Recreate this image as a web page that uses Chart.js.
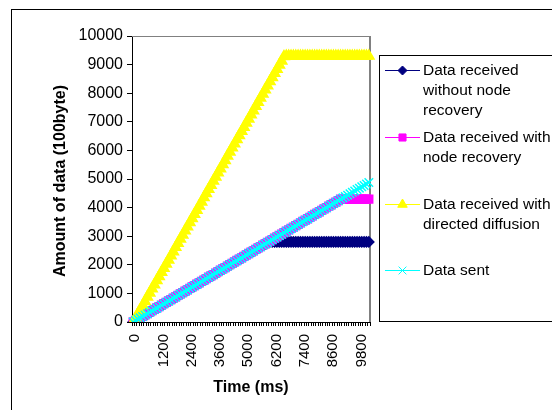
<!DOCTYPE html>
<html>
<head>
<meta charset="utf-8">
<script src="https://cdn.jsdelivr.net/npm/chart.js@4.4.0/dist/chart.umd.min.js"></script>
<style>
body { margin: 0; background: #fff; }
canvas { display: block; }
</style>
</head>
<body>
<canvas id="myChart" width="552" height="410"></canvas>
<script>
// time axis (ms) - one category per sample
const times = [
	0,100,200,300,400,500,600,700,800,900,1000,1100,1200,1300,1400,1500,1600,1700,1800,1900,
	2000,2100,2200,2300,2400,2500,2600,2700,2800,2900,3000,3100,3200,3300,3400,3500,3600,
	3700,3800,3900,4000,4100,4200,4300,4400,4600,4700,4800,5000,
	5100,5200,5300,5400,5500,5600,5700,5800,5900,6000,6100,6200,6300,6400,6500,6600,6700,6800,6900,7000,
	7100,7200,7300,7400,7500,7600,7700,7800,7900,8000,8100,8200,8300,8400,8500,8600,8700,8800,8900,9000,
	9100,9200,9300,9400,9500,9600,9700,9800,9900,10000,10100,10200
];

const withoutRecovery = [
	0,50,100,145,195,245,290,340,390,440,
	485,535,585,635,680,730,780,830,875,925,
	975,1025,1070,1120,1170,1220,1265,1315,1365,1415,
	1460,1510,1560,1610,1655,1705,1755,1805,1850,1900,
	1950,2000,2045,2095,2145,2195,2240,2290,2340,2390,
	2435,2485,2535,2585,2630,2680,2730,2780,2800,2800,
	2800,2800,2800,2800,2800,2800,2800,2800,2800,2800,
	2800,2800,2800,2800,2800,2800,2800,2800,2800,2800,
	2800,2800,2800,2800,2800,2800,2800,2800,2800,2800,
	2800,2800,2800,2800,2800,2800,2800,2800,2800,2800,
	2800
];

const withRecovery = [
	0,55,105,150,200,250,295,345,395,445,
	490,540,590,640,685,735,785,835,880,930,
	980,1030,1075,1125,1175,1225,1270,1320,1370,1420,
	1465,1515,1565,1615,1660,1710,1760,1810,1855,1905,
	1955,2005,2050,2100,2150,2200,2245,2295,2345,2395,
	2440,2490,2540,2590,2635,2685,2735,2785,2830,2880,
	2930,2980,3025,3075,3125,3175,3220,3270,3320,3370,
	3415,3465,3515,3565,3610,3660,3710,3760,3805,3855,
	3905,3955,4000,4050,4100,4150,4195,4245,4300,4300,
	4300,4300,4300,4300,4300,4300,4300,4300,4300,4300,
	4300
];

const directedDiffusion = [
	0,140,290,430,580,720,870,1010,1160,1300,
	1450,1590,1740,1880,2030,2170,2320,2460,2610,2750,
	2900,3040,3190,3330,3480,3620,3770,3910,4060,4200,
	4350,4490,4640,4780,4930,5070,5220,5360,5510,5650,
	5800,5940,6090,6230,6380,6520,6670,6810,6960,7100,
	7250,7390,7540,7680,7830,7970,8120,8260,8410,8550,
	8700,8840,8990,9130,9280,9300,9300,9300,9300,9300,
	9300,9300,9300,9300,9300,9300,9300,9300,9300,9300,
	9300,9300,9300,9300,9300,9300,9300,9300,9300,9300,
	9300,9300,9300,9300,9300,9300,9300,9300,9300,9300,
	9300
];

const dataSent = [
	0,50,100,145,195,245,290,340,390,440,
	485,535,585,635,680,730,780,830,875,925,
	975,1025,1070,1120,1170,1220,1265,1315,1365,1415,
	1460,1510,1560,1610,1655,1705,1755,1805,1850,1900,
	1950,2000,2045,2095,2145,2195,2240,2290,2340,2390,
	2435,2485,2535,2585,2630,2680,2730,2780,2825,2875,
	2925,2975,3020,3070,3120,3170,3215,3265,3315,3365,
	3410,3460,3510,3560,3605,3655,3705,3755,3800,3850,
	3900,3950,3995,4045,4095,4145,4190,4240,4290,4340,
	4385,4435,4485,4535,4580,4630,4680,4730,4775,4825,
	4875
];

const seriesNames = [
	["Data received", "without node", "recovery"],
	["Data received with", "node recovery"],
	["Data received with", "directed diffusion"],
	["Data sent"]
];
const yTitle = "Amount of data (100byte)";
const xTitle = "Time (ms)";

const FONT = "'Liberation Sans', Arial, sans-serif";
Chart.defaults.font.family = FONT;
Chart.defaults.color = "#000";

function makeDataset(label, data, color, style, radius, order){
	return {
		label: label.join(" "),
		data: data,
		borderColor: color,
		backgroundColor: color,
		borderWidth: 1,
		pointStyle: style,
		pointRadius: radius,
		pointBorderWidth: 1.5,
		pointBackgroundColor: color,
		pointBorderColor: color,
		tension: 0,
		fill: false,
		order: order
	};
}

// frame, plot area border
const framePlugin = {
	id: "frame",
	beforeDraw(chart){
		const c = chart.ctx;
		c.save();
		c.fillStyle = "#fff";
		c.fillRect(0, 0, chart.width, chart.height);
		c.strokeStyle = "#000";
		c.lineWidth = 1;
		c.strokeRect(11.5, 9.5, 700, 600);
		c.restore();
	},
	beforeDatasetsDraw(chart){
		const a = chart.chartArea;
		const c = chart.ctx;
		c.save();
		c.strokeStyle = "#808080";
		c.lineWidth = 1;
		c.beginPath();
		c.moveTo(a.left, a.top + 0.5);
		c.lineTo(a.right, a.top + 0.5);
		c.stroke();
		c.lineWidth = 2;
		c.beginPath();
		c.moveTo(a.right, a.top);
		c.lineTo(a.right, a.bottom);
		c.stroke();
		c.restore();
	}
};

// axis titles + legend drawn by hand (multi-line entries)
const extrasPlugin = {
	id: "extras",
	afterDraw(chart){
		const c = chart.ctx;
		const a = chart.chartArea;
		c.save();
		c.fillStyle = "#000";
		c.font = "bold 16px " + FONT;
		c.textAlign = "center";
		c.textBaseline = "middle";
		c.translate(61, (a.top + a.bottom) / 2 + 2);
		c.rotate(-Math.PI / 2);
		c.fillText(yTitle, 0, 0);
		c.restore();

		c.save();
		c.fillStyle = "#000";
		c.font = "bold 16px " + FONT;
		c.textAlign = "center";
		c.textBaseline = "middle";
		c.fillText(xTitle, 251, 388);
		c.restore();

		// legend
		c.save();
		c.strokeStyle = "#000";
		c.lineWidth = 1;
		c.fillStyle = "#fff";
		c.fillRect(379.5, 55.5, 300, 266);
		c.strokeRect(379.5, 55.5, 300, 266);
		const entryY = [70, 137, 204, 270];
		const metas = chart.data.datasets;
		for(let i = 0; i < metas.length; i++){
			const ds = metas[i];
			const y = entryY[i];
			c.strokeStyle = ds.borderColor;
			c.lineWidth = 1;
			c.beginPath();
			c.moveTo(385, y + 0.5);
			c.lineTo(420, y + 0.5);
			c.stroke();
			c.fillStyle = ds.borderColor;
			c.strokeStyle = ds.borderColor;
			Chart.helpers.drawPoint(c, {pointStyle: ds.pointStyle, radius: ds.pointRadius - 0.5, borderWidth: 1, rotation: 0}, 402.5, y + 0.5);
			c.fillStyle = "#000";
			c.font = "15.5px " + FONT;
			c.textAlign = "left";
			c.textBaseline = "middle";
			const lines = seriesNames[i];
			for(let j = 0; j < lines.length; j++){
				c.fillText(lines[j], 423, y + 1 + j * 20);
			}
		}
		c.restore();
	}
};

const ctx = document.getElementById("myChart").getContext("2d");

new Chart(ctx, {
	type: "line",
	data: {
		labels: times,
		datasets: [
			makeDataset(seriesNames[0], withoutRecovery, "#000080", "rectRot", 5, 3),
			makeDataset(seriesNames[1], withRecovery, "#FF00FF", "rect", 5.5, 2),
			makeDataset(seriesNames[2], directedDiffusion, "#FFFF00", "triangle", 6, 1),
			makeDataset(seriesNames[3], dataSent, "#00FFFF", "crossRot", 6, 0)
		]
	},
	options: {
		responsive: false,
		animation: false,
		layout: { padding: { left: 0, top: 36, right: 182, bottom: 0 } },
		plugins: {
			legend: { display: false },
			tooltip: { enabled: false },
			title: { display: false }
		},
		scales: {
			x: {
				type: "category",
				offset: true,
				grid: { drawOnChartArea: false, drawTicks: true, tickLength: 4, color: "#000", offset: true },
				border: { display: true, color: "#000", width: 1 },
				ticks: {
					autoSkip: false,
					maxRotation: 90,
					minRotation: 90,
					padding: 8,
					labelOffset: 2,
					color: "#000",
					font: { size: 15 },
					callback: function(v, i){
						return i % 12 === 0 ? String(this.getLabelForValue(v)) : "";
					}
				},
				afterFit: function(s){ s.height = 88; }
			},
			y: {
				min: 0,
				max: 10000,
				grid: { drawOnChartArea: false, drawTicks: true, tickLength: 5, color: "#000" },
				border: { display: true, color: "#000", width: 1 },
				ticks: {
					stepSize: 1000,
					padding: 4,
					color: "#000",
					font: { size: 16 },
					callback: function(v){ return String(v); }
				},
				afterFit: function(s){ s.width = 132; }
			}
		}
	},
	plugins: [framePlugin, extrasPlugin]
});
</script>
</body>
</html>
